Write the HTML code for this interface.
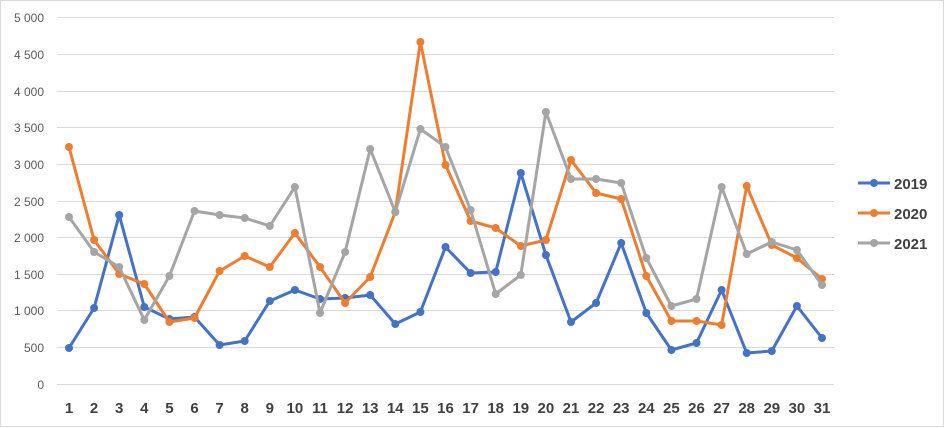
<!DOCTYPE html>
<html><head><meta charset="utf-8"><style>body{margin:0;background:#fff}svg{display:block}</style></head><body>
<svg width="945" height="428" xmlns="http://www.w3.org/2000/svg" font-family="Liberation Sans, sans-serif">
<rect x="0.5" y="0.5" width="943" height="426" fill="#fff" stroke="#d9d9d9"/>
<g stroke="#d9d9d9" stroke-width="1">
<line x1="57" x2="834" y1="17.5" y2="17.5"/><line x1="57" x2="834" y1="54.5" y2="54.5"/><line x1="57" x2="834" y1="91.5" y2="91.5"/><line x1="57" x2="834" y1="127.5" y2="127.5"/><line x1="57" x2="834" y1="164.5" y2="164.5"/><line x1="57" x2="834" y1="201.5" y2="201.5"/><line x1="57" x2="834" y1="237.5" y2="237.5"/><line x1="57" x2="834" y1="274.5" y2="274.5"/><line x1="57" x2="834" y1="310.5" y2="310.5"/><line x1="57" x2="834" y1="347.5" y2="347.5"/><line x1="57" x2="834" y1="384.5" y2="384.5"/>
</g>
<g fill="#595959" font-size="12" text-anchor="end">
<text x="44" y="22">5 000</text><text x="44" y="59">4 500</text><text x="44" y="96">4 000</text><text x="44" y="132">3 500</text><text x="44" y="169">3 000</text><text x="44" y="206">2 500</text><text x="44" y="242">2 000</text><text x="44" y="279">1 500</text><text x="44" y="315">1 000</text><text x="44" y="352">500</text><text x="44" y="389">0</text>
</g>
<g id="xl" fill="#404040" font-size="15" font-weight="bold" text-anchor="middle"></g>
<g id="series"></g>
<g font-size="15" font-weight="bold" fill="#404040">
<line x1="858" x2="890" y1="183" y2="183" stroke="#4472C4" stroke-width="3"/><circle cx="874" cy="183" r="4" fill="#4472C4"/><text x="894" y="189">2019</text>
<line x1="858" x2="890" y1="213" y2="213" stroke="#ED7D31" stroke-width="3"/><circle cx="874" cy="213" r="4" fill="#ED7D31"/><text x="894" y="219">2020</text>
<line x1="858" x2="890" y1="243" y2="243" stroke="#A5A5A5" stroke-width="3"/><circle cx="874" cy="243" r="4" fill="#A5A5A5"/><text x="894" y="249">2021</text>
</g>
<script>
var NS="http://www.w3.org/2000/svg";
function X(i){return 69+i*25.1;}
var xl=document.getElementById('xl');
for(var i=0;i<31;i++){var t=document.createElementNS(NS,'text');t.setAttribute('x',X(i));t.setAttribute('y',413);t.textContent=i+1;xl.appendChild(t);}
var d=[["#4472C4",[348,308,215,307,319,317,345,341,301,290,299,298,295,324,312,247,273,272,173,255,322,303,243,313,350,343,290,353,351,306,338]],
["#ED7D31",[147,240,274,284,322,318,271,256,267,233,267,303,277,212,42,165,221,228,246,240,160,193,199,276,321,321,325,186,245,258,279]],
["#A5A5A5",[217,252,267,320,276,211,215,218,226,187,313,252,149,212,129,147,210,294,275,112,179,179,183,258,306,299,187,254,242,250,285]]];
var s=document.getElementById('series');
d.forEach(function(r){var p=r[1].map(function(y,i){return X(i)+','+y;}).join(' ');
var pl=document.createElementNS(NS,'polyline');pl.setAttribute('points',p);pl.setAttribute('fill','none');pl.setAttribute('stroke',r[0]);pl.setAttribute('stroke-width','3');pl.setAttribute('stroke-linejoin','round');s.appendChild(pl);
r[1].forEach(function(y,i){var c=document.createElementNS(NS,'circle');c.setAttribute('cx',X(i));c.setAttribute('cy',y);c.setAttribute('r',4);c.setAttribute('fill',r[0]);s.appendChild(c);});});
</script>
</svg>
</body></html>
